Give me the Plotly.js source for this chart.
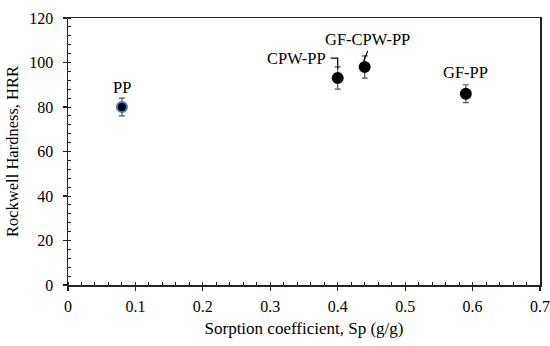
<!DOCTYPE html>
<html>
<head>
<meta charset="utf-8">
<script src="https://cdn.plot.ly/plotly-3.0.1.min.js"></script>
<style>html,body{margin:0;padding:0;background:#fff}#chart{width:550px;height:346px}</style>
</head>
<body>
<div id="chart"></div>
<script>
const samples = ["PP", "CPW-PP", "GF-CPW-PP", "GF-PP"];
const sorption = [0.08, 0.40, 0.44, 0.59];
const hardness = [80, 93, 98, 86];
const hardnessErr = [4, 5, 5, 4];
const markerLines = ["#2f7fd6", "#000000", "#000000", "#000000"];
const xRange = [0, 0.7];
const yRange = [0, 120];

const font = "Liberation Serif";

const trace = {
  x: sorption, y: hardness, type: "scatter", mode: "markers",
  marker: {color: "#000", size: 10, line: {color: markerLines, width: 2}},
  error_y: {type: "data", array: hardnessErr, visible: true, color: "#555", thickness: 1.2, width: 3},
  showlegend: false, hoverinfo: "skip"
};

const annotations = [
  {x: sorption[0], y: hardness[0], text: samples[0], showarrow: false, yshift: 20},
  {x: sorption[1], y: hardness[1], text: samples[1], showarrow: false, xshift: -41, yshift: 20},
  {x: sorption[2], y: hardness[2], text: samples[2], showarrow: false, xshift: 3, yshift: 27},
  {x: sorption[3], y: hardness[3], text: samples[3], showarrow: false, yshift: 21}
].map(a => Object.assign({font: {family: font, size: 16.5, color: "#000"}, xref: "x", yref: "y"}, a));

const shapes = [
  {type: "path", xref: "x", yref: "y", xsizemode: "pixel", ysizemode: "pixel",
   xanchor: sorption[1], yanchor: hardness[1], path: "M -7,20 L 0,20 L 0,9",
   line: {color: "#000", width: 1.2}},
  {type: "path", xref: "x", yref: "y", xsizemode: "pixel", ysizemode: "pixel",
   xanchor: sorption[2], yanchor: hardness[2], path: "M 3,16 L -1,6",
   line: {color: "#000", width: 1.2}}
];

const axisLine = {showgrid: false, zeroline: false, showline: true, linecolor: "#222", linewidth: 1.5, mirror: true};

const layout = {
  width: 550, height: 346,
  margin: {l: 68, r: 10, t: 18, b: 61},
  paper_bgcolor: "#fff", plot_bgcolor: "#fff",
  font: {family: font, color: "#000", size: 16},
  xaxis: Object.assign({
    range: xRange, dtick: 0.1, tick0: 0,
    ticks: "outside", ticklen: 4, tickcolor: "#222", tickwidth: 1.2, ticklabelstandoff: 2,
    minor: {dtick: 0.02, ticks: "inside", ticklen: 3, tickcolor: "#222", tickwidth: 1},
    tickfont: {family: font, size: 16},
    title: {text: "Sorption coefficient, Sp (g/g)", font: {family: font, size: 17}, standoff: 8}
  }, axisLine),
  yaxis: Object.assign({
    range: yRange, dtick: 20,
    ticks: "outside", ticklen: 4, tickcolor: "#222", tickwidth: 1.2, ticklabelstandoff: 6,
    minor: {dtick: 4, ticks: "inside", ticklen: 3, tickcolor: "#222", tickwidth: 1},
    tickfont: {family: font, size: 16},
    title: {text: "Rockwell Hardness, HRR", font: {family: font, size: 16.5}, standoff: 6}
  }, axisLine),
  xaxis2: {range: xRange, dtick: 0.1, tick0: 0, overlaying: "x", anchor: "y", side: "bottom",
    ticks: "inside", ticklen: 4, tickcolor: "#222", tickwidth: 1.2, showticklabels: false,
    showgrid: false, zeroline: false, showline: false},
  yaxis2: {range: yRange, dtick: 20, overlaying: "y", anchor: "x", side: "left",
    ticks: "inside", ticklen: 4, tickcolor: "#222", tickwidth: 1.2, showticklabels: false,
    showgrid: false, zeroline: false, showline: false},
  annotations: annotations,
  shapes: shapes
};

Plotly.newPlot("chart", [trace], layout, {displayModeBar: false, staticPlot: true});
</script>
</body>
</html>
